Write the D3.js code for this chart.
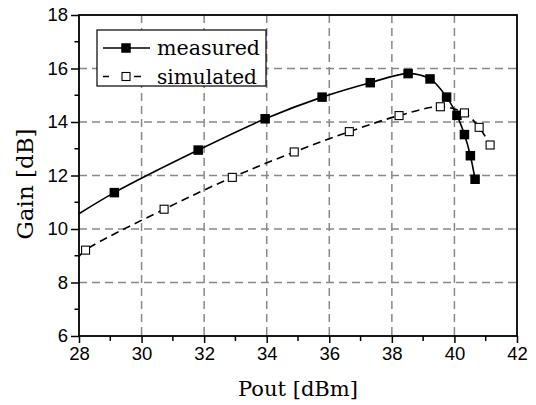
<!DOCTYPE html>
<html>
<head>
<meta charset="utf-8">
<script src="https://cdn.jsdelivr.net/npm/d3@7"></script>
<style>
  body { margin: 0; background: #fff; }
  svg { display: block; }
</style>
</head>
<body>
<svg id="chart" width="536" height="405"></svg>
<script>
// data
const measuredPout = [29.13, 31.81, 33.95, 35.77, 37.31, 38.52, 39.22, 39.75, 40.08, 40.32, 40.51, 40.66]
const measuredGain = [11.36, 12.95, 14.12, 14.93, 15.47, 15.81, 15.61, 14.93, 14.25, 13.53, 12.74, 11.86]
const measuredStart = [28, 10.57] // where the fitted line leaves the y axis

const simulatedPout = [28.21, 30.72, 32.90, 34.88, 36.64, 38.23, 39.55, 40.32, 40.79, 41.14]
const simulatedGain = [9.21, 10.74, 11.93, 12.88, 13.64, 14.24, 14.57, 14.34, 13.80, 13.14]
const simulatedStart = [28, 8.97]

const xTicks = [28, 30, 32, 34, 36, 38, 40, 42]
const yTicks = [6, 8, 10, 12, 14, 16, 18]
const legendLabels = ['measured', 'simulated']

const W = 536, H = 405
const m = { top: 15, right: 19, bottom: 69, left: 79 }
const pw = W - m.left - m.right
const ph = H - m.top - m.bottom

const svg = d3.select('#chart')
const g = svg.append('g').attr('transform', `translate(${m.left},${m.top})`)

const x = d3.scaleLinear().domain([28, 42]).range([0, pw])
const y = d3.scaleLinear().domain([6, 18]).range([ph, 0])

g.append('clipPath').attr('id', 'clip')
  .append('rect').attr('width', pw).attr('height', ph)

// grid
const grid = g.append('g')
  .attr('stroke', '#888').attr('stroke-width', 1.5).attr('stroke-dasharray', '8,5')
grid.selectAll('.gx').data(xTicks.slice(1, -1)).enter().append('line')
  .attr('x1', d => x(d)).attr('x2', d => x(d)).attr('y1', 0).attr('y2', ph)
grid.selectAll('.gy').data(yTicks.slice(1, -1)).enter().append('line')
  .attr('y1', d => y(d)).attr('y2', d => y(d)).attr('x1', 0).attr('x2', pw)

// curves
const line = d3.line().x(d => x(d[0])).y(d => y(d[1])).curve(d3.curveCatmullRom.alpha(0.5))
const meas = [measuredStart].concat(measuredPout.map((p, i) => [p, measuredGain[i]]))
const sim = [simulatedStart].concat(simulatedPout.map((p, i) => [p, simulatedGain[i]]))

const curves = g.append('g').attr('clip-path', 'url(#clip)')
curves.append('path').datum(meas).attr('d', line)
  .attr('fill', 'none').attr('stroke', '#000').attr('stroke-width', 1.6)
curves.append('path').datum(sim).attr('d', line)
  .attr('fill', 'none').attr('stroke', '#000').attr('stroke-width', 1.6)
  .attr('stroke-dasharray', '8,5')

// markers
const ms = 9.5, os = 8
g.selectAll('.mm').data(meas.slice(1)).enter().append('rect')
  .attr('x', d => x(d[0]) - ms / 2).attr('y', d => y(d[1]) - ms / 2)
  .attr('width', ms).attr('height', ms).attr('fill', '#000')
g.selectAll('.sm').data(sim.slice(1)).enter().append('rect')
  .attr('x', d => x(d[0]) - os / 2).attr('y', d => y(d[1]) - os / 2)
  .attr('width', os).attr('height', os).attr('fill', '#fff')
  .attr('stroke', '#000').attr('stroke-width', 1.1)

// axes
const xAxis = d3.axisBottom(x).tickValues(xTicks).tickSize(7).tickPadding(4).tickFormat(d3.format('d'))
const yAxis = d3.axisLeft(y).tickValues(yTicks).tickSize(8).tickPadding(3).tickFormat(d3.format('d'))

const xa = g.append('g').attr('transform', `translate(0,${ph})`).call(xAxis)
const ya = g.append('g').call(yAxis)
;[xa, ya].forEach(a => {
  a.select('.domain').remove()
  a.selectAll('.tick line').attr('stroke', '#000').attr('stroke-width', 1.5)
  a.selectAll('.tick text').attr('fill', '#000')
    .style('font-family', '"Liberation Sans", Arial, sans-serif').style('font-size', '18.5px')
})

// minor ticks
const xMinor = d3.range(29, 42, 2)
const yMinor = d3.range(7, 18, 2)
g.append('g').selectAll('line').data(xMinor).enter().append('line')
  .attr('x1', d => x(d)).attr('x2', d => x(d)).attr('y1', ph).attr('y2', ph + 5)
  .attr('stroke', '#000').attr('stroke-width', 1.5)
g.append('g').selectAll('line').data(yMinor).enter().append('line')
  .attr('y1', d => y(d)).attr('y2', d => y(d)).attr('x1', 0).attr('x2', -4.5)
  .attr('stroke', '#000').attr('stroke-width', 1.5)

// frame
g.append('rect').attr('width', pw).attr('height', ph)
  .attr('fill', 'none').attr('stroke', '#000').attr('stroke-width', 1.8)

// legend
const lg = g.append('g').attr('transform', 'translate(18,15)')
lg.append('rect').attr('width', 169).attr('height', 56)
  .attr('fill', '#fff').attr('stroke', '#000').attr('stroke-width', 1.2)
const rows = lg.selectAll('.row').data(legendLabels).enter().append('g')
  .attr('transform', (d, i) => `translate(0,${18 + i * 28.5})`)
rows.append('line').attr('x1', 6).attr('x2', (d, i) => i === 0 ? 53 : 44).attr('y1', 0).attr('y2', 0)
  .attr('stroke', '#000').attr('stroke-width', 1.6)
  .attr('stroke-dasharray', (d, i) => i === 0 ? null : '6,25,7')
rows.append('rect')
  .attr('x', (d, i) => 29 - (i === 0 ? ms : os) / 2)
  .attr('y', (d, i) => -(i === 0 ? ms : os) / 2)
  .attr('width', (d, i) => i === 0 ? ms : os).attr('height', (d, i) => i === 0 ? ms : os)
  .attr('fill', (d, i) => i === 0 ? '#000' : '#fff')
  .attr('stroke', '#000').attr('stroke-width', (d, i) => i === 0 ? 0 : 1.1)
rows.append('text').attr('x', 60).attr('y', 7).text(d => d).attr('fill', '#000')
  .style('font-family', '"DejaVu Serif", serif').style('font-size', '20px')
  .attr('textLength', (d, i) => i === 0 ? 103 : 100).attr('lengthAdjust', 'spacingAndGlyphs')

// axis titles
svg.append('text').attr('x', m.left + pw / 2).attr('y', 396).attr('text-anchor', 'middle')
  .attr('fill', '#000')
  .style('font-family', '"DejaVu Serif", serif').style('font-size', '20px')
  .attr('textLength', 120).attr('lengthAdjust', 'spacingAndGlyphs')
  .text('Pout [dBm]')
svg.append('text').attr('transform', 'translate(33,184) rotate(-90)')
  .attr('text-anchor', 'middle').attr('fill', '#000')
  .style('font-family', '"DejaVu Serif", serif').style('font-size', '23px')
  .text('Gain [dB]')
</script>
</body>
</html>
